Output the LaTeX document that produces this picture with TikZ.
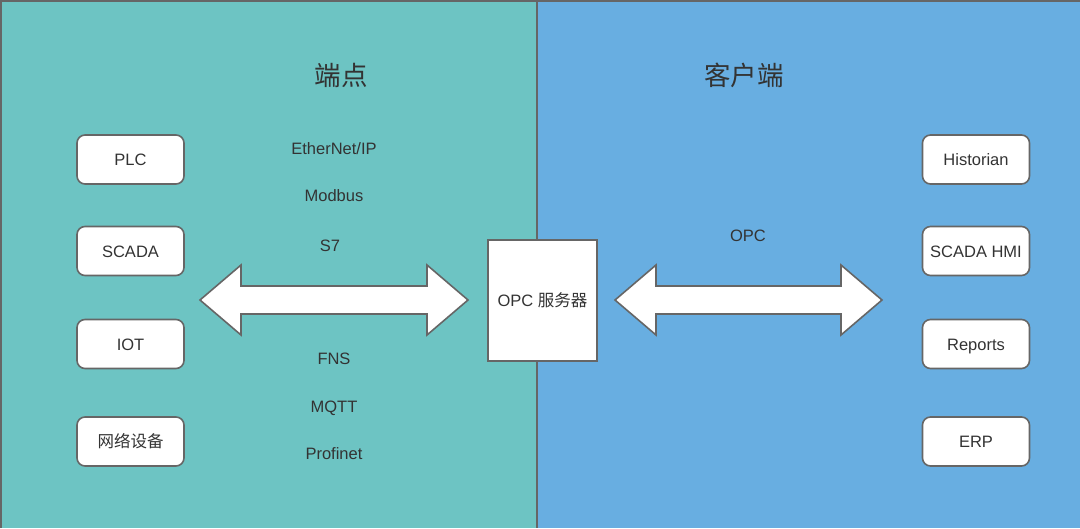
\documentclass[tikz,border=0pt]{standalone}
\usepackage{fontspec}
\setmainfont{Liberation Sans}
\newfontfamily\cjk{Noto Sans CJK SC}
\definecolor{endpt}{RGB}{109,196,195}
\definecolor{client}{RGB}{104,174,225}
\definecolor{edge}{RGB}{102,102,102}
\definecolor{ink}{RGB}{51,51,51}
\tikzset{
  dev/.style={draw=edge,line width=1.6pt,fill=white,rounded corners=8pt,
              minimum width=107pt,minimum height=49pt,inner sep=0pt,
              text height=12pt,text depth=0pt,
              text=ink,font=\fontsize{16.5}{18}\selectfont},
  proto/.style={text=ink,text height=12pt,text depth=0pt,
                font=\fontsize{16.5}{18}\selectfont},
  head/.style={text=ink,font=\cjk\fontsize{26.5}{28}\selectfont},
  fat/.style={draw=edge,line width=1.6pt,fill=white,line join=miter}
}
\begin{document}
\begin{tikzpicture}[x=1pt,y=-1pt]
\useasboundingbox (0,0) rectangle (1080,528);
% the two halves
\fill[endpt]  (0,0) rectangle (537,528);
\fill[client] (537,0) rectangle (1080,528);
\draw[edge,line width=2pt]
      (1,528) -- (1,1) -- (1080,1)
      (537,0) -- (537,528);
% titles
\node [head] (ends)    at (341,75) {端点};
\node [head] (clients) at (744,75) {客户端};
% devices on the left
\node [dev] (plc)   at (130.5,159.5) {PLC};
\node [dev] (scada) at (130.5,251)   {SCADA};
\node [dev] (iot)   at (130.5,344)   {IOT};
\node [dev] (net)   at (130.5,441.5) {\cjk 网络设备};
% applications on the right
\node [dev] (hist)  at (976,159.5) {Historian};
\node [dev] (hmi)   at (976,251)   {SCADA HMI};
\node [dev] (rep)   at (976,344)   {Reports};
\node [dev] (erp)   at (976,441.5) {ERP};
% server
\node [draw=edge,line width=1.6pt,fill=white,minimum width=109pt,
       minimum height=121pt,inner sep=0pt,text=ink,
       font=\fontsize{16.5}{18}\selectfont]
      (opc) at (542.5,300.5) {OPC {\cjk 服务器}};
% protocols
\path
    (334,148) node [proto] (enip)   {EtherNet/IP}
    (334,195) node [proto] (mbus)   {Modbus}
    (330,245) node [proto] (s7)     {S7}
    (334,358) node [proto] (fns)    {FNS}
    (334,406) node [proto] (mqtt)   {MQTT}
    (334,453) node [proto] (pnet)   {Profinet}
    (748,235) node [proto] (opcp)   {OPC};
% the two fat arrows
\draw [fat]
      (200,300) -- (241,265) -- (241,286) -- (427,286) -- (427,265)
   -- (468,300) -- (427,335) -- (427,314) -- (241,314) -- (241,335) -- cycle;
\draw [fat]
      (615,300) -- (656,265) -- (656,286) -- (841,286) -- (841,265)
   -- (882,300) -- (841,335) -- (841,314) -- (656,314) -- (656,335) -- cycle;
\end{tikzpicture}
\end{document}
